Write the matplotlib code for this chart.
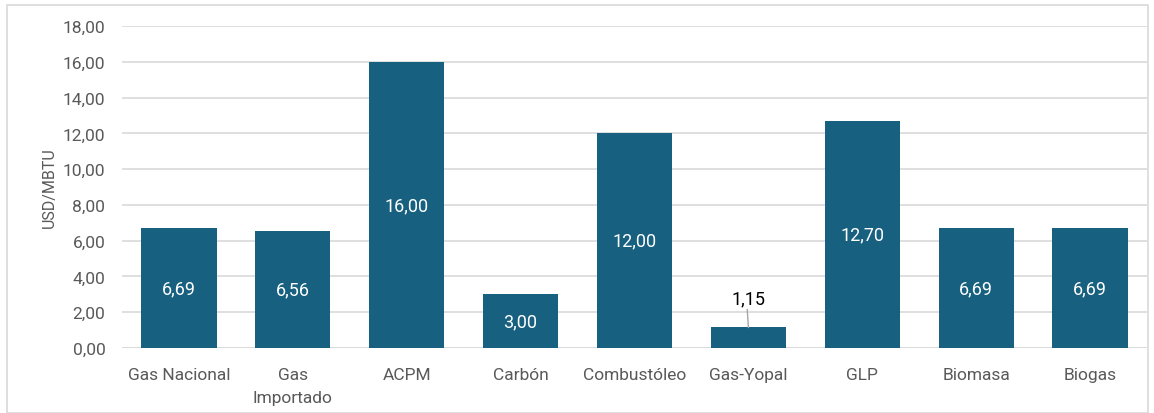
import matplotlib.pyplot as plt
from matplotlib.patches import Rectangle

plt.rcParams['font.family'] = ['Roboto', 'DejaVu Sans']

# data
categorias = ['Gas Nacional', 'Gas\nImportado', 'ACPM', 'Carbón', 'Combustóleo',
              'Gas-Yopal', 'GLP', 'Biomasa', 'Biogas']
valores = [6.69, 6.56, 16.00, 3.00, 12.00, 1.15, 12.70, 6.69, 6.69]
ticks_y = [0, 2, 4, 6, 8, 10, 12, 14, 16, 18]

color_barra = '#17607F'
gris = '#595959'

fig = plt.figure(figsize=(11.54, 4.14), dpi=100)
ax = fig.add_axes([122 / 1154, 1 - 349 / 414, 1025 / 1154, 322 / 414])

x = range(len(categorias))
barras = ax.bar(x, valores, width=0.66, color=color_barra, zorder=3)

ax.set_ylim(0, 18)
ax.set_xlim(-0.5, len(categorias) - 0.5)
ax.set_yticks(ticks_y)
ax.set_yticklabels([f'{t:.2f}'.replace('.', ',') for t in ticks_y])
ax.set_xticks(list(x))
ax.set_xticklabels(categorias, va='top', linespacing=1.6)
ax.tick_params(axis='both', length=0, labelsize=12.5, colors=gris)
ax.tick_params(axis='x', pad=14)
ax.tick_params(axis='y', pad=12)
ax.grid(axis='y', color='#D9D9D9', linewidth=1.2, zorder=0)
for s in ax.spines.values():
    s.set_visible(False)
ax.axhline(0, color='#D9D9D9', linewidth=1.2, zorder=2)
ax.set_ylabel('USD/MBTU', fontsize=11.5, color=gris, labelpad=4)

# etiquetas de datos
for i, v in enumerate(valores):
    txt = f'{v:.2f}'.replace('.', ',')
    if v < 2:
        ax.text(i, 2.75, txt, ha='center', va='center', fontsize=13, color='black')
        ax.plot([i - 0.01, i], [2.15, v], color='#A6A6A6', linewidth=1, zorder=4)
    else:
        ax.text(i, v / 2, txt, ha='center', va='center', fontsize=13, color='white', zorder=4)

# borde exterior
fig.patches.append(Rectangle((7 / 1154, 0), 1141 / 1154, 1 - 6 / 414, transform=fig.transFigure,
                             fill=False, edgecolor='#D9D9D9', linewidth=1.2))

fig.savefig('out.png', dpi=100)
